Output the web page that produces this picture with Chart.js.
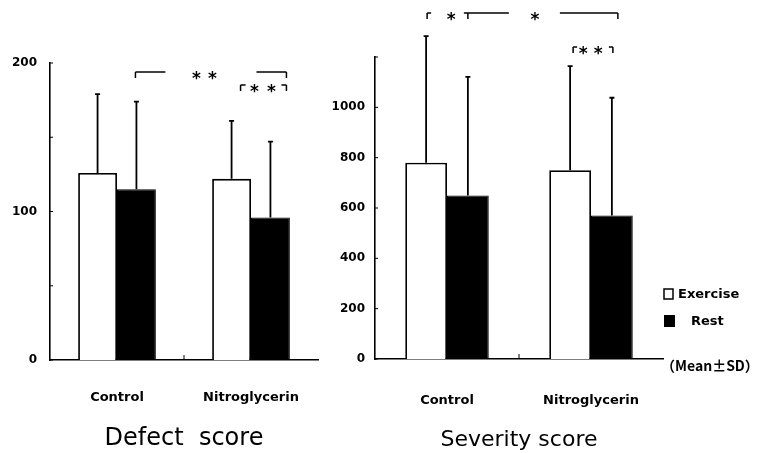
<!DOCTYPE html>
<html><head><meta charset="utf-8">
<script src="https://cdn.jsdelivr.net/npm/chart.js@4.4.0/dist/chart.umd.min.js"></script>
<style>
html,body{margin:0;padding:0;background:#fff;width:763px;height:453px;overflow:hidden}
#c1{position:absolute;left:0;top:0}
#c2{position:absolute;left:330px;top:0}
</style></head><body>
<canvas id="c1" width="330" height="453"></canvas>
<canvas id="c2" width="433" height="453"></canvas>
<script>
// ---- data ----
const categories = ['Control', 'Nitroglycerin'];
const seriesNames = ['Exercise', 'Rest'];
const defectExercise = [126, 122];
const defectExerciseSD = [53, 39];
const defectRest = [115, 96];
const defectRestSD = [59, 51];
const severityExercise = [780, 750];
const severityExerciseSD = [503, 414];
const severityRest = [650, 570];
const severityRestSD = [471, 468];
const defectTicks = [0, 100, 200];
const severityTicks = [0, 200, 400, 600, 800, 1000];
const titles = ['Defect  score', 'Severity score'];
const noteText = '（Mean±SD）';

Chart.defaults.font.family = 'DejaVu Sans';
Chart.defaults.color = '#000';

const errorBars = {
  id: 'errorBars',
  afterDatasetsDraw(chart) {
    const ctx = chart.ctx, ys = chart.scales.y;
    ctx.save();
    ctx.strokeStyle = '#000';
    ctx.lineWidth = 1.8;
    chart.data.datasets.forEach((ds, i) => {
      const meta = chart.getDatasetMeta(i);
      meta.data.forEach((bar, j) => {
        const top = ys.getPixelForValue(ds.data[j] + ds.sd[j]);
        ctx.beginPath();
        ctx.moveTo(bar.x, bar.y);
        ctx.lineTo(bar.x, top);
        ctx.moveTo(bar.x - 2.5, top);
        ctx.lineTo(bar.x + 2.5, top);
        ctx.stroke();
      });
    });
    ctx.restore();
  }
};

const axisMarks = {
  id: 'axisMarks',
  afterDraw(chart) {
    const ctx = chart.ctx, ys = chart.scales.y, xs = chart.scales.x, a = chart.chartArea;
    ctx.save();
    ctx.strokeStyle = '#000';
    ctx.lineWidth = 1;
    ys.ticks.forEach(t => {
      const y = ys.getPixelForValue(t.value);
      ctx.beginPath(); ctx.moveTo(a.left, y); ctx.lineTo(a.left + 3, y); ctx.stroke();
    });
    const mx = (xs.getPixelForValue(0) + xs.getPixelForValue(1)) / 2;
    ctx.beginPath(); ctx.moveTo(mx, a.bottom); ctx.lineTo(mx, a.bottom - 5); ctx.stroke();
    ctx.restore();
  }
};

function drawStar(ctx, x, y) {
  ctx.font = 'bold 17px "DejaVu Sans"';
  ctx.textAlign = 'center';
  ctx.textBaseline = 'alphabetic';
  ctx.fillText('*', x, y + 12);
}
function hline(ctx, x1, x2, y) { ctx.beginPath(); ctx.moveTo(x1, y); ctx.lineTo(x2, y); ctx.stroke(); }
function vline(ctx, x, y1, y2) { ctx.beginPath(); ctx.moveTo(x, y1); ctx.lineTo(x, y2); ctx.stroke(); }

const defectSig = {
  id: 'defectSig',
  afterDraw(chart) {
    const ctx = chart.ctx, a = chart.chartArea;
    const ex = chart.getDatasetMeta(0).data, re = chart.getDatasetMeta(1).data;
    ctx.save();
    ctx.strokeStyle = '#000'; ctx.fillStyle = '#000'; ctx.lineWidth = 1.5;
    // bracket A
    let y = a.top + 9, xl = re[0].x - 1, xr = re[1].x + 16;
    vline(ctx, xl, y, y + 6); hline(ctx, xl, xl + 30, y);
    hline(ctx, xr - 30, xr, y); vline(ctx, xr, y, y + 6);
    drawStar(ctx, xl + 61, y); drawStar(ctx, xl + 77, y);
    // bracket B
    y = a.top + 22; xl = ex[1].x + 9;
    vline(ctx, xl, y, y + 6); hline(ctx, xl, xl + 5, y);
    hline(ctx, xr - 5, xr, y); vline(ctx, xr, y, y + 6);
    drawStar(ctx, xl + 14, y); drawStar(ctx, xl + 31, y);
    ctx.restore();
  }
};

const severitySig = {
  id: 'severitySig',
  afterDraw(chart) {
    const ctx = chart.ctx, a = chart.chartArea;
    const ex = chart.getDatasetMeta(0).data, re = chart.getDatasetMeta(1).data;
    ctx.save();
    ctx.strokeStyle = '#000'; ctx.fillStyle = '#000'; ctx.lineWidth = 1.5;
    // bracket C
    let y = a.top - 44, xl = ex[0].x + 1, xm = re[0].x, xr = re[1].x + 6;
    vline(ctx, xl, y, y + 6); hline(ctx, xl, xl + 4, y);
    drawStar(ctx, xl + 24, y);
    hline(ctx, xm - 4, xm + 41, y); vline(ctx, xm, y, y + 6);
    hline(ctx, xr - 58, xr, y); vline(ctx, xr, y, y + 6);
    drawStar(ctx, xm + 67, y);
    // bracket E
    y = a.top - 10; xl = ex[1].x + 3; const xr2 = re[1].x + 1;
    vline(ctx, xl, y, y + 6); hline(ctx, xl, xl + 4, y);
    hline(ctx, xr2 - 4, xr2, y); vline(ctx, xr2, y, y + 6);
    drawStar(ctx, xl + 10, y); drawStar(ctx, xl + 25, y);
    ctx.restore();
  }
};

const sideLegend = {
  id: 'sideLegend',
  afterDraw(chart) {
    const ctx = chart.ctx, a = chart.chartArea;
    const ds = chart.data.datasets;
    ctx.save();
    ctx.lineWidth = 1.5; ctx.strokeStyle = '#000';
    ctx.fillStyle = ds[0].backgroundColor;
    ctx.fillRect(a.right + 1, 289, 9, 10);
    ctx.strokeRect(a.right + 1, 289, 9, 10);
    ctx.fillStyle = ds[1].backgroundColor;
    ctx.fillRect(a.right + 1, 315, 11, 12);
    ctx.fillStyle = '#000';
    ctx.font = 'bold 13px "DejaVu Sans"';
    ctx.textAlign = 'left'; ctx.textBaseline = 'middle';
    ctx.fillText(ds[0].label, a.right + 15, 295);
    ctx.fillText(ds[1].label, a.right + 28, 322);
    ctx.font = 'bold 14px "Noto Sans CJK JP"';
    ctx.fillText(noteText, a.right - 2, a.bottom + 7);
    ctx.restore();
  }
};

function makeChart(id, exData, exSD, reData, reSD, maxV, step, tickList, title, titleSize, pad, tickPad, titlePad, yPad, yWidth, xHeight) {
  return new Chart(document.getElementById(id), {
    type: 'bar',
    data: {
      labels: categories,
      datasets: [
        { label: seriesNames[0], data: exData, sd: exSD, backgroundColor: '#ffffff', borderColor: '#000', borderWidth: 1.8 },
        { label: seriesNames[1], data: reData, sd: reSD, backgroundColor: '#000000', borderColor: '#000', borderWidth: 1 }
      ]
    },
    options: {
      responsive: false,
      animation: false,
      layout: { padding: pad },
      categoryPercentage: 0.58,
      barPercentage: 1.0,
      plugins: { legend: { display: false }, tooltip: { enabled: false } },
      scales: {
        x: {
          grid: { display: false, drawTicks: false },
          border: { display: true, color: '#000', width: 1.6 },
          ticks: { padding: tickPad, font: { size: 13, weight: 'bold' }, color: '#000' },
          title: { display: true, text: title, font: { size: titleSize }, color: '#000', padding: { top: titlePad, bottom: 0 } },
          afterFit: s => { s.height = xHeight; s.paddingLeft = 0; s.paddingRight = 0; }
        },
        y: {
          min: 0, max: maxV,
          grid: { display: false, drawTicks: false },
          border: { display: true, color: '#000', width: 1.6 },
          ticks: {
            stepSize: step, padding: yPad, font: { size: 12, weight: 'bold' }, color: '#000',
            callback: v => tickList.includes(v) ? String(v) : ''
          },
          afterFit: s => { s.width = yWidth; }
        }
      }
    },
    plugins: [errorBars, axisMarks]
  });
}

const c1 = makeChart('c1', defectExercise, defectExerciseSD, defectRest, defectRestSD, 200, 50, defectTicks, titles[0], 24,
  { left: 0, right: 12, top: 63, bottom: 0 }, 30, 20, 13, 50, 93);
c1.config.plugins.push(defectSig);
const c2 = makeChart('c2', severityExercise, severityExerciseSD, severityRest, severityRestSD, 1200, 200, severityTicks, titles[1], 22,
  { left: 0, right: 100, top: 57, bottom: 0 }, 34, 17, 10, 45, 94);
c2.config.plugins.push(severitySig, sideLegend);
c1.update(); c2.update();
</script>
</body></html>
